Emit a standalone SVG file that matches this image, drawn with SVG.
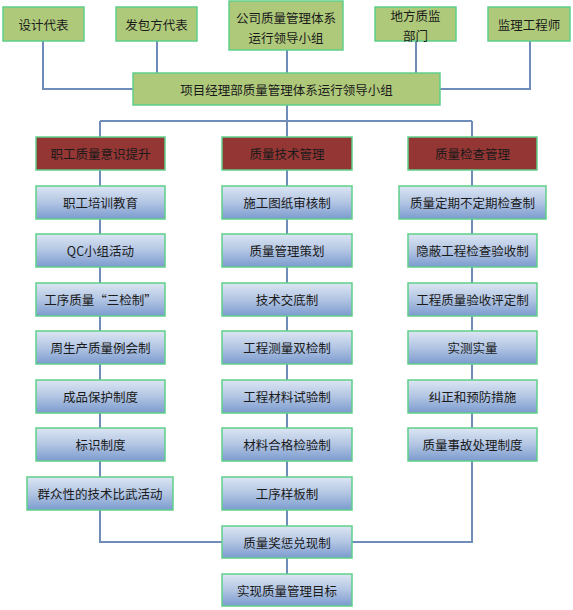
<svg xmlns="http://www.w3.org/2000/svg" width="573" height="610" viewBox="0 0 573 610">
<defs>
<linearGradient id="blue" x1="0" y1="0" x2="0" y2="1">
<stop offset="0" stop-color="#dce6f3"/>
<stop offset="0.5" stop-color="#b2c5e3"/>
<stop offset="1" stop-color="#7b9bce"/>
</linearGradient>
<style>
.g rect{fill:#afc97a;stroke:#5fcf8a;stroke-width:1.5}
.r rect{fill:#943634;stroke:#5fcf8a;stroke-width:1.5}
.b rect{fill:url(#blue);stroke:#5fcf8a;stroke-width:1.5}
text{font-family:"Noto Sans CJK SC","Noto Sans CJK TC",sans-serif;font-size:12.5px;fill:#1a1a1a;text-anchor:middle;dominant-baseline:central}
.c path{fill:none;stroke:#6f8db8;stroke-width:2}
</style>
</defs>
<rect width="573" height="610" fill="#ffffff"/>
<g id="connectors" class="c">
<path d="M43,41 V89 H133"/>
<path d="M157,41 V73"/>
<path d="M287,50 V73"/>
<path d="M416,41 V73"/>
<path d="M530,41 V89 H440"/>
<path d="M287,105 V574"/>
<path d="M100,121 H472"/>
<path d="M100,121 V477"/>
<path d="M100,509 V542 H222"/>
<path d="M472,121 V542 H352"/>
</g>
<g id="n_sheji" class="g"><rect x="3" y="7" width="81" height="34"/><text x="43.5" y="24">设计代表</text></g>
<g id="n_fabao" class="g"><rect x="116" y="7" width="81" height="34"/><text x="156.5" y="24">发包方代表</text></g>
<g id="n_gongsi" class="g"><rect x="229" y="1" width="114" height="49"/><text x="286" y="17">公司质量管理体系</text><text x="286" y="37">运行领导小组</text></g>
<g id="n_difang" class="g"><rect x="375" y="7" width="81" height="34"/><text x="415.5" y="15">地方质监</text><text x="415.5" y="35">部门</text></g>
<g id="n_jianli" class="g"><rect x="488" y="7" width="82" height="34"/><text x="529" y="24">监理工程师</text></g>
<g id="n_main" class="g"><rect x="133" y="73" width="307" height="32"/><text x="286.5" y="89">项目经理部质量管理体系运行领导小组</text></g>

<g id="h1" class="r"><rect x="36" y="137" width="129" height="33"/><text x="100.5" y="153.5">职工质量意识提升</text></g>
<g id="h2" class="r"><rect x="222" y="137" width="130" height="33"/><text x="287" y="153.5">质量技术管理</text></g>
<g id="h3" class="r"><rect x="408" y="137" width="129" height="33"/><text x="472.5" y="153.5">质量检查管理</text></g>

<g id="c1r1" class="b"><rect x="36" y="186" width="129" height="33"/><text x="100.5" y="202.5">职工培训教育</text></g>
<g id="c1r2" class="b"><rect x="36" y="234" width="129" height="33"/><text x="100.5" y="250.5">QC小组活动</text></g>
<g id="c1r3" class="b"><rect x="36" y="283" width="129" height="33"/><text x="100.5" y="299.5">工序质量“三检制”</text></g>
<g id="c1r4" class="b"><rect x="36" y="331" width="129" height="33"/><text x="100.5" y="347.5">周生产质量例会制</text></g>
<g id="c1r5" class="b"><rect x="36" y="380" width="129" height="33"/><text x="100.5" y="396.5">成品保护制度</text></g>
<g id="c1r6" class="b"><rect x="36" y="428" width="129" height="33"/><text x="100.5" y="444.5">标识制度</text></g>
<g id="c1r7" class="b"><rect x="27" y="477" width="146" height="33"/><text x="100" y="493.5">群众性的技术比武活动</text></g>

<g id="c2r1" class="b"><rect x="222" y="186" width="130" height="33"/><text x="287" y="202.5">施工图纸审核制</text></g>
<g id="c2r2" class="b"><rect x="222" y="234" width="130" height="33"/><text x="287" y="250.5">质量管理策划</text></g>
<g id="c2r3" class="b"><rect x="222" y="283" width="130" height="33"/><text x="287" y="299.5">技术交底制</text></g>
<g id="c2r4" class="b"><rect x="222" y="331" width="130" height="33"/><text x="287" y="347.5">工程测量双检制</text></g>
<g id="c2r5" class="b"><rect x="222" y="380" width="130" height="33"/><text x="287" y="396.5">工程材料试验制</text></g>
<g id="c2r6" class="b"><rect x="222" y="428" width="130" height="33"/><text x="287" y="444.5">材料合格检验制</text></g>
<g id="c2r7" class="b"><rect x="222" y="477" width="130" height="33"/><text x="287" y="493.5">工序样板制</text></g>
<g id="jiangcheng" class="b"><rect x="222" y="526" width="130" height="32"/><text x="287" y="542">质量奖惩兑现制</text></g>
<g id="mubiao" class="b"><rect x="222" y="574" width="130" height="32"/><text x="287" y="590">实现质量管理目标</text></g>

<g id="c3r1" class="b"><rect x="399" y="186" width="147" height="33"/><text x="472.5" y="202.5">质量定期不定期检查制</text></g>
<g id="c3r2" class="b"><rect x="408" y="234" width="129" height="33"/><text x="472.5" y="250.5">隐蔽工程检查验收制</text></g>
<g id="c3r3" class="b"><rect x="408" y="283" width="129" height="33"/><text x="472.5" y="299.5">工程质量验收评定制</text></g>
<g id="c3r4" class="b"><rect x="408" y="331" width="129" height="33"/><text x="472.5" y="347.5">实测实量</text></g>
<g id="c3r5" class="b"><rect x="408" y="380" width="129" height="33"/><text x="472.5" y="396.5">纠正和预防措施</text></g>
<g id="c3r6" class="b"><rect x="408" y="428" width="129" height="33"/><text x="472.5" y="444.5">质量事故处理制度</text></g>
</svg>
